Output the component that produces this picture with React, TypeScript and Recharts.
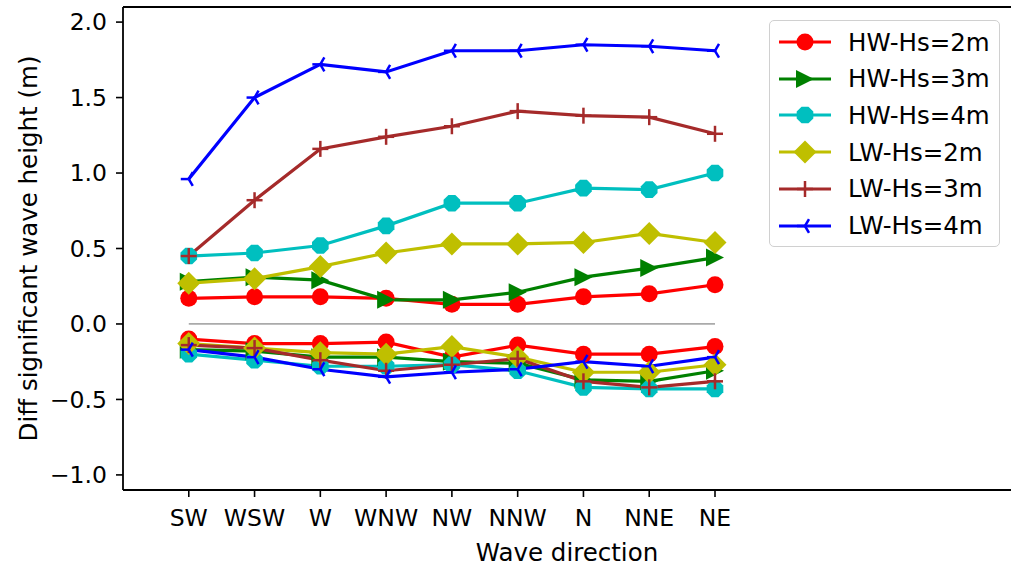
import React from "react";
import {
  LineChart, Line, XAxis, YAxis, ReferenceLine,
} from "recharts";

const directions = ["SW", "WSW", "W", "WNW", "NW", "NNW", "N", "NNE", "NE"];

const hw2Pos = [0.17, 0.18, 0.18, 0.17, 0.13, 0.13, 0.18, 0.20, 0.26];
const hw2Neg = [-0.10, -0.13, -0.13, -0.12, -0.22, -0.14, -0.20, -0.20, -0.15];
const hw3Pos = [0.28, 0.31, 0.29, 0.16, 0.16, 0.21, 0.31, 0.37, 0.44];
const hw3Neg = [-0.17, -0.18, -0.22, -0.22, -0.25, -0.26, -0.37, -0.38, -0.31];
const hw4Pos = [0.45, 0.47, 0.52, 0.65, 0.80, 0.80, 0.90, 0.89, 1.00];
const hw4Neg = [-0.20, -0.24, -0.28, -0.28, -0.27, -0.31, -0.42, -0.43, -0.43];
const lw2Pos = [0.27, 0.30, 0.38, 0.47, 0.53, 0.53, 0.54, 0.60, 0.54];
const lw2Neg = [-0.13, -0.16, -0.19, -0.20, -0.15, -0.22, -0.32, -0.32, -0.27];
const lw3Pos = [0.45, 0.82, 1.16, 1.24, 1.31, 1.41, 1.38, 1.37, 1.26];
const lw3Neg = [-0.14, -0.16, -0.24, -0.31, -0.27, -0.23, -0.38, -0.42, -0.38];
const lw4Pos = [0.96, 1.50, 1.72, 1.67, 1.81, 1.81, 1.85, 1.84, 1.81];
const lw4Neg = [-0.17, -0.22, -0.30, -0.35, -0.32, -0.30, -0.25, -0.28, -0.22];

const yTicks = [-1.0, -0.5, 0.0, 0.5, 1.0, 1.5, 2.0];

type MarkerType = "circle" | "triRight" | "octagon" | "diamond" | "plus" | "triLeft";

const SERIES: { key: string; name: string; color: string; marker: MarkerType; pos: number[]; neg: number[] }[] = [
  { key: "hw2", name: "HW-Hs=2m", color: "#ff0000", marker: "circle", pos: hw2Pos, neg: hw2Neg },
  { key: "hw3", name: "HW-Hs=3m", color: "#008000", marker: "triRight", pos: hw3Pos, neg: hw3Neg },
  { key: "hw4", name: "HW-Hs=4m", color: "#00bfbf", marker: "octagon", pos: hw4Pos, neg: hw4Neg },
  { key: "lw2", name: "LW-Hs=2m", color: "#bfbf00", marker: "diamond", pos: lw2Pos, neg: lw2Neg },
  { key: "lw3", name: "LW-Hs=3m", color: "#a52a2a", marker: "plus", pos: lw3Pos, neg: lw3Neg },
  { key: "lw4", name: "LW-Hs=4m", color: "#0000ff", marker: "triLeft", pos: lw4Pos, neg: lw4Neg },
];

const data = directions.map((dir, i) => {
  const row: Record<string, number | string> = { idx: i, dir, zero: 0 };
  SERIES.forEach((s) => {
    row[`${s.key}Pos`] = s.pos[i];
    row[`${s.key}Neg`] = s.neg[i];
  });
  return row;
});

function markerShape(type: MarkerType, cx: number, cy: number, color: string) {
  switch (type) {
    case "circle":
      return <circle cx={cx} cy={cy} r={8.5} fill={color} />;
    case "triRight": {
      const r = 9;
      return <polygon points={`${cx + r},${cy} ${cx - r},${cy - r} ${cx - r},${cy + r}`} fill={color} />;
    }
    case "octagon": {
      const r = 9;
      const pts = [0, 1, 2, 3, 4, 5, 6, 7]
        .map((k) => {
          const a = (Math.PI / 8) + (k * Math.PI) / 4;
          return `${cx + r * Math.cos(a)},${cy + r * Math.sin(a)}`;
        })
        .join(" ");
      return <polygon points={pts} fill={color} />;
    }
    case "diamond": {
      const r = 11.5;
      return <polygon points={`${cx},${cy - r} ${cx + r},${cy} ${cx},${cy + r} ${cx - r},${cy}`} fill={color} />;
    }
    case "plus": {
      const r = 8;
      return (
        <g stroke={color} strokeWidth={2.5}>
          <line x1={cx - r} y1={cy} x2={cx + r} y2={cy} />
          <line x1={cx} y1={cy - r} x2={cx} y2={cy + r} />
        </g>
      );
    }
    case "triLeft": {
      const r = 8;
      return (
        <g stroke={color} strokeWidth={2.5}>
          <line x1={cx} y1={cy} x2={cx - r} y2={cy} />
          <line x1={cx} y1={cy} x2={cx + r * 0.5} y2={cy - r * 0.866} />
          <line x1={cx} y1={cy} x2={cx + r * 0.5} y2={cy + r * 0.866} />
        </g>
      );
    }
  }
}

const fmt = (v: number) => v.toFixed(1).replace("-", "\u2212");

export default function App() {
  const font = "'DejaVu Sans', sans-serif";
  return (
    <div style={{ position: "absolute", left: 0, top: 0, width: 1011, height: 566, overflow: "hidden", background: "#fff", fontFamily: font }}>
      <LineChart width={1011} height={566} data={data} margin={{ top: 7, right: 0, left: 0, bottom: 0 }}>
        <XAxis
          type="number"
          dataKey="idx"
          domain={[-1, 12.5]}
          ticks={directions.map((_, i) => i)}
          tickFormatter={(i: number) => directions[i]}
          allowDataOverflow
          height={76}
          tick={{ fontSize: 23.5, fill: "#000" }}
          tickSize={7}
          tickMargin={12}
          tickLine={{ stroke: "#000", strokeWidth: 1.6 }}
          axisLine={{ stroke: "#000", strokeWidth: 1.8 }}
          label={{ value: "Wave direction", position: "insideBottom", offset: 5, fontSize: 24.5, fill: "#000" }}
        />
        <YAxis
          type="number"
          domain={[-1.1, 2.1]}
          ticks={yTicks}
          tickFormatter={fmt}
          allowDataOverflow
          width={123}
          tick={{ fontSize: 23.5, fill: "#000" }}
          tickSize={7}
          tickMargin={9}
          tickLine={{ stroke: "#000", strokeWidth: 1.6 }}
          axisLine={{ stroke: "#000", strokeWidth: 1.8 }}
          label={{
            value: "Diff significant wave height (m)",
            angle: -90,
            position: "insideLeft",
            offset: 28,
            fontSize: 24.5,
            fill: "#000",
            style: { textAnchor: "middle" },
          }}
        />
        <ReferenceLine y={2.1} stroke="#000" strokeWidth={1.8} ifOverflow="visible" />
        <Line dataKey="zero" stroke="#aaaaaa" strokeWidth={1.8} dot={false} activeDot={false} isAnimationActive={false} />
        {SERIES.flatMap((s) =>
          ["Pos", "Neg"].map((part) => (
            <Line
              key={`${s.key}${part}`}
              type="linear"
              dataKey={`${s.key}${part}`}
              name={s.name}
              stroke={s.color}
              strokeWidth={3.2}
              activeDot={false}
              isAnimationActive={false}
              dot={(p: any) => (
                <g key={`${s.key}${part}-${p.index}`}>{markerShape(s.marker, p.cx, p.cy, s.color)}</g>
              )}
            />
          ))
        )}
      </LineChart>

      {/* legend box, upper right inside the axes */}
      <div
        style={{
          position: "absolute", left: 769, top: 20, width: 231, height: 227,
          border: "1.5px solid #d0d0d0", borderRadius: 5, background: "rgba(255,255,255,0.85)",
          boxSizing: "border-box",
        }}
      >
        {SERIES.map((s, i) => (
          <div key={s.key} style={{ position: "absolute", left: 0, top: 6 + i * 36.7, height: 30, display: "flex", alignItems: "center" }}>
            <svg width={78} height={30} style={{ flexShrink: 0 }}>
              <line x1={9} y1={15} x2={61} y2={15} stroke={s.color} strokeWidth={3.2} />
              {markerShape(s.marker, 35, 15, s.color)}
            </svg>
            <span style={{ fontSize: 24.5, color: "#000", whiteSpace: "nowrap" }}>{s.name}</span>
          </div>
        ))}
      </div>
    </div>
  );
}
